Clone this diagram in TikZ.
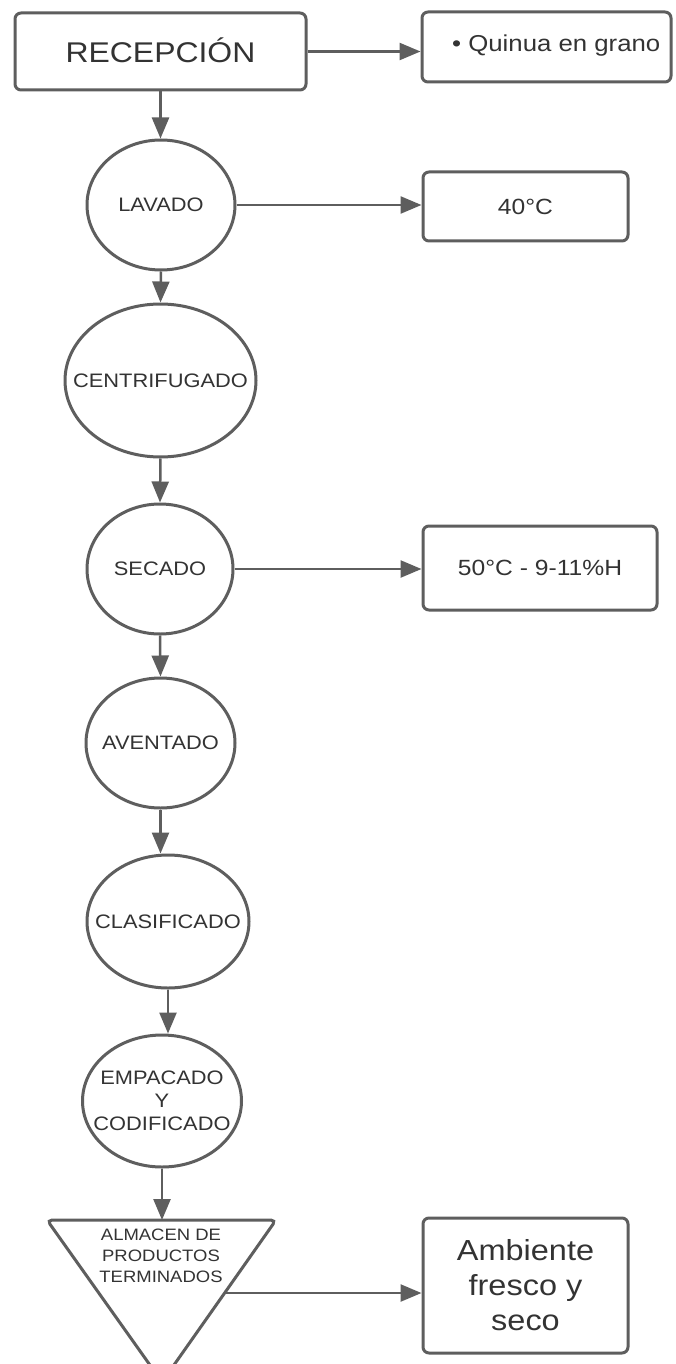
\documentclass[tikz,border=0pt]{standalone}
\usepackage{fontspec}
\setmainfont{Liberation Sans}[FakeStretch=1.12]
\usetikzlibrary{shapes.geometric,arrows.meta}
\definecolor{edge}{HTML}{5E5E5E}
\definecolor{ink}{HTML}{333333}

\begin{document}
\begin{tikzpicture}[x=1pt,y=-1pt,
  stage/.style={ellipse, draw=edge, line width=3pt, inner sep=0pt},
  stagetext/.style={text=ink, inner sep=0pt, align=center,
    font=\fontsize{19.5}{23}\selectfont},
  card/.style={rectangle, rounded corners=6pt, draw=edge, line width=3pt,
    text=ink, inner sep=0pt, align=center},
  flow/.style={draw=edge, line width=2.5pt, -{Triangle[length=21pt,width=17pt]}},
]
\clip (0,0) rectangle (676,1364);
\fill[white] (0,0) rectangle (676,1364);

% process steps
\node[card, minimum width=291pt, minimum height=77pt,
  font=\fontsize{28.5}{34}\selectfont] (rec) at (160.5,51.5) {\raisebox{3pt}{RECEPCIÓN}};
\node[card, minimum width=249pt, minimum height=70pt] (qui) at (546.5,47) {};
\node[anchor=base west, inner sep=0pt, text=ink,
  font=\fontsize{23}{28}\selectfont] (quit) at (452,52) {• Quinua en grano};

\node[stage, minimum width=148pt, minimum height=130pt,
  label={[stagetext]center:LAVADO}] (lav) at (161,205) {};
\node[card, minimum width=205pt, minimum height=69pt,
  font=\fontsize{22}{26}\selectfont] (t40) at (525.5,206.5) {40°C};

\node[stage, minimum width=191pt, minimum height=153pt,
  label={[stagetext]center:CENTRIFUGADO}] (cen) at (160.5,380.5) {};

\node[stage, minimum width=146pt, minimum height=130pt,
  label={[stagetext]center:SECADO}] (sec) at (160,569) {};
\node[card, minimum width=234pt, minimum height=84pt,
  font=\fontsize{22}{26}\selectfont] (t50) at (540,568) {50°C - 9-11\%H};

\node[stage, minimum width=149pt, minimum height=130pt,
  label={[stagetext]center:AVENTADO}] (ave) at (160.5,743) {};
\node[stage, minimum width=162pt, minimum height=133pt,
  label={[stagetext]center:CLASIFICADO}] (cla) at (168,921.5) {};
\node[stage, minimum width=159pt, minimum height=132pt,
  label={[stagetext]center:EMPACADO\\Y\\CODIFICADO}] (emp) at (162,1101) {};

% storage triangle
\draw[edge, line width=3pt, rounded corners=5pt]
  (161,1220) -- (276,1220) -- (162,1382) -- (47,1220) -- cycle;
\coordinate (almT) at (161,1220);
\coordinate (almR) at (224.6,1293);
\node[text=ink, align=center, inner sep=0pt,
  font=\fontsize{16.5}{21}\selectfont] (alm) at (161,1256)
  {ALMACEN DE\\PRODUCTOS\\TERMINADOS};
\node[card, minimum width=205pt, minimum height=135pt,
  font=\fontsize{29}{35}\selectfont] (amb) at (525.5,1285.5) {Ambiente\\fresco y\\seco};

% connectors
\draw[flow] (rec.south) -- (rec.south |- lav.north);
\draw[flow] (rec.east) -- (rec.east -| qui.west);
\draw[flow] (lav.east) -- (lav.east -| t40.west);
\draw[flow] (lav.south) -- (cen.north);
\draw[flow] (cen.south) -- (sec.north);
\draw[flow] (sec.east) -- (sec.east -| t50.west);
\draw[flow] (sec.south) -- (ave.north);
\draw[flow] (ave.south) -- (ave.south |- cla.north);
\draw[flow] (cla.south) -- (cla.south |- emp.north);
\draw[flow] (emp.south) -- (emp.south |- almT);
\draw[flow] (almR) -- (almR -| amb.west);
\end{tikzpicture}
\end{document}
